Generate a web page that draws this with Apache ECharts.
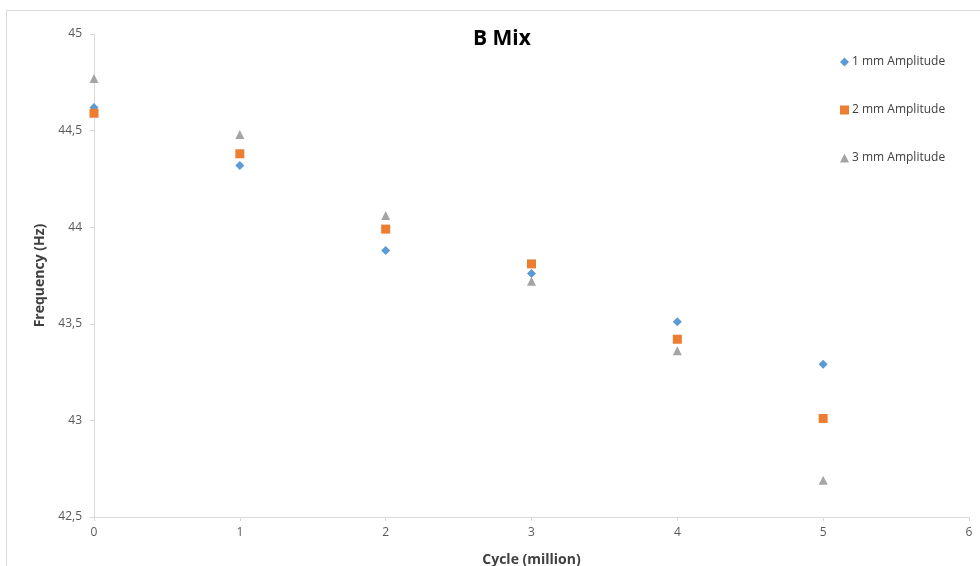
<!DOCTYPE html>
<html><head><meta charset="utf-8">
<script src="https://cdn.jsdelivr.net/npm/echarts@6/dist/echarts.min.js"></script>
<style>html,body{margin:0;padding:0;background:#fff}#c{width:980px;height:566px}</style>
</head><body><div id="c"></div>
<script>
const cycles = [0, 1, 2, 3, 4, 5];
const amp1 = [44.62, 44.32, 43.88, 43.76, 43.51, 43.29];
const amp2 = [44.59, 44.38, 43.99, 43.81, 43.42, 43.01];
const amp3 = [44.77, 44.48, 44.06, 43.72, 43.36, 42.69];
const seriesNames = ['1 mm Amplitude', '2 mm Amplitude', '3 mm Amplitude'];
const FONT = '"Open Sans", Lato, sans-serif';
const pair = (arr) => cycles.map((c, i) => [c, arr[i]]);
const chart = echarts.init(document.getElementById('c'));
chart.setOption({
  animation: false,
  textStyle: {fontFamily: FONT},
  graphic: [
    {type: 'rect', shape: {x: 6.5, y: 10.5, width: 1000, height: 600}, style: {fill: 'none', stroke: '#d9d9d9', lineWidth: 1}, silent: true}
  ],
  title: {text: 'B Mix', left: 468, top: 24, textStyle: {fontFamily: FONT, fontSize: 21, fontWeight: 'bold', color: '#000'}},
  legend: {
    orient: 'vertical', left: 835, top: 51, itemWidth: 9, itemHeight: 9, itemGap: 36,
    textStyle: {fontFamily: FONT, fontSize: 12, color: '#404040', padding: [0, 0, 0, -2]},
    data: [{name: seriesNames[0], icon: 'diamond'}, {name: seriesNames[1], icon: 'rect'}, {name: seriesNames[2], icon: 'triangle'}]
  },
  grid: {left: 94, right: 11, top: 34, bottom: 49, containLabel: false, outerBoundsMode: 'none'},
  xAxis: {
    type: 'value', min: 0, max: 6, interval: 1,
    name: 'Cycle (million)', nameLocation: 'middle', nameGap: 36,
    nameTextStyle: {fontFamily: FONT, fontSize: 14, fontWeight: 'bold', color: '#404040'},
    axisLine: {lineStyle: {color: '#d9d9d9'}},
    axisTick: {show: true, length: 4, lineStyle: {color: '#d9d9d9'}},
    axisLabel: {color: '#595959', fontSize: 12, margin: 10},
    splitLine: {show: false}
  },
  yAxis: {
    type: 'value', min: 42.5, max: 45, interval: 0.5,
    name: 'Frequency (Hz)', nameLocation: 'middle', nameGap: 45, nameRotate: 90,
    nameTextStyle: {fontFamily: FONT, fontSize: 14, fontWeight: 'bold', color: '#404040'},
    axisLine: {show: true, lineStyle: {color: '#d9d9d9'}},
    axisTick: {show: true, length: 4, lineStyle: {color: '#d9d9d9'}},
    axisLabel: {color: '#595959', fontSize: 12, margin: 12, formatter: v => String(v).replace('.', ',')},
    splitLine: {show: false}
  },
  series: [
    {name: seriesNames[0], type: 'scatter', symbol: 'diamond', symbolSize: 9, itemStyle: {color: '#5B9BD5', opacity: 1}, data: pair(amp1)},
    {name: seriesNames[1], type: 'scatter', symbol: 'rect', symbolSize: 9, itemStyle: {color: '#ED7D31', opacity: 1}, data: pair(amp2)},
    {name: seriesNames[2], type: 'scatter', symbol: 'triangle', symbolSize: 9, itemStyle: {color: '#A5A5A5', opacity: 1}, data: pair(amp3)}
  ]
});
</script></body></html>
